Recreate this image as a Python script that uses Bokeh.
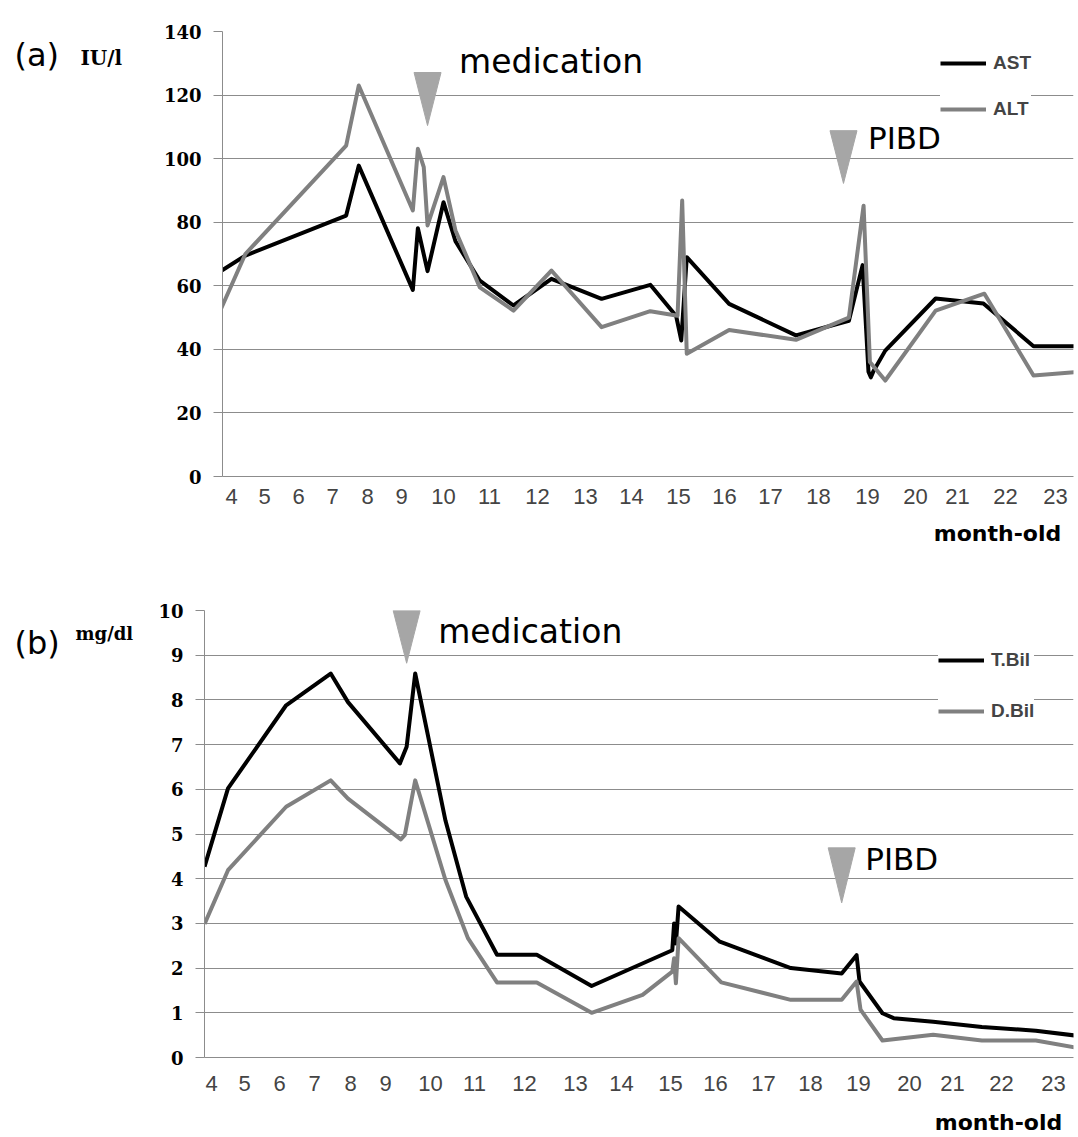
import numpy as np
from bokeh.plotting import figure
from bokeh.models import Range1d, FixedTicker, Label, Legend, LegendItem, LinearAxis
from bokeh.layouts import column, row
from bokeh.embed import file_html
from bokeh.resources import INLINE

# ---------------- data ----------------
month_ticks = list(range(4, 24))
month_labels = [str(m) for m in month_ticks]
x_title = "month-old"

# (a) transaminases, IU/l
ast_month = [3.68, 4.42, 7.39, 7.75, 9.27, 9.39, 9.62, 10.0, 10.26, 10.79, 11.5, 12.29, 13.35,
             14.4, 14.95, 15.06, 15.18, 16.1, 17.53, 18.62, 18.9, 19.02, 19.07, 19.12, 19.37,
             20.48, 21.54, 22.56, 23.5]
ast_value = [64.6, 69.5, 82.1, 97.8, 58.7, 78.1, 64.6, 86.3, 74.0, 61.6, 53.8, 62.2, 55.9,
             60.3, 50.5, 42.8, 69.0, 54.3, 44.4, 49.0, 66.5, 33.0, 31.2, 33.0, 39.6,
             56.0, 54.4, 41.0, 41.0]
alt_month = [3.68, 4.42, 7.39, 7.75, 9.27, 9.39, 9.53, 9.62, 10.0, 10.26, 10.79, 11.5, 12.29,
             13.35, 14.4, 14.98, 15.08, 15.18, 16.1, 17.53, 18.62, 18.92, 19.05, 19.37,
             20.48, 21.56, 22.56, 23.5]
alt_value = [52.7, 70.0, 104.1, 123.0, 83.7, 103.1, 97.3, 79.0, 94.2, 77.4, 59.5, 52.2, 64.8,
             47.0, 52.0, 50.6, 86.8, 38.6, 46.1, 43.0, 50.0, 85.2, 36.0, 30.2,
             52.2, 57.5, 31.8, 33.0]

# (b) bilirubin, mg/dl
tbil_month = [3.79, 4.5, 6.19, 7.45, 7.93, 9.32, 9.47, 9.66, 10.34, 10.81, 11.45, 12.24, 13.35,
              15.04, 15.08, 15.12, 15.18, 16.09, 17.58, 18.65, 18.96, 19.02, 19.47, 19.69,
              20.55, 21.6, 22.66, 23.5]
tbil_value = [4.27, 6.02, 7.88, 8.59, 7.95, 6.58, 6.95, 8.59, 5.3, 3.6, 2.3, 2.3, 1.6,
              2.4, 3.0, 2.55, 3.38, 2.59, 2.0, 1.88, 2.29, 1.7, 0.99, 0.88,
              0.8, 0.68, 0.6, 0.48]
dbil_month = [3.79, 4.5, 6.19, 7.45, 7.93, 9.34, 9.43, 9.66, 10.34, 10.85, 11.45, 12.24, 13.35,
              14.43, 15.04, 15.08, 15.12, 15.18, 16.12, 17.58, 18.65, 18.96, 19.04, 19.47,
              20.55, 21.6, 22.66, 23.5]
dbil_value = [2.99, 4.19, 5.61, 6.2, 5.79, 4.88, 4.98, 6.2, 3.97, 2.67, 1.68, 1.68, 1.0,
              1.4, 1.92, 2.22, 1.66, 2.67, 1.68, 1.29, 1.29, 1.7, 1.07, 0.38,
              0.51, 0.38, 0.38, 0.21]

# events (month-old) as placed in each panel
event_names = ["medication", "PIBD"]
event_month_a = [9.62, 18.51]
event_month_b = [9.47, 18.65]

# ---------------- layout constants ----------------
# horizontal position (px from plot-frame left) of each month label, per panel
TOP_TICK_PX = [9, 42, 76, 110, 145, 179, 221, 267, 315, 363, 409, 456, 502, 548, 596, 645,
               693, 735, 783, 833]
BOT_TICK_PX = [7, 40, 75, 110, 146, 181, 226, 270, 320, 371, 417, 466, 511, 559, 606, 654,
               705, 748, 797, 849]

BLACK = "#000000"
GREY = "#808080"
TRI = "#a6a6a6"
GRID = "#8c8c8c"
SIDE_W = 148
MAIN_W = 930


def warp(months, px):
    m = np.asarray(months, float)
    t = np.asarray(month_ticks, float)
    p = np.asarray(px, float)
    out = np.interp(m, t, p)
    lo = m < t[0]
    hi = m > t[-1]
    out[lo] = p[0] + (m[lo] - t[0]) * (p[1] - p[0]) / (t[1] - t[0])
    out[hi] = p[-1] + (m[hi] - t[-1]) * (p[-1] - p[-2]) / (t[-1] - t[-2])
    return out


def side_fig(height, texts):
    s = figure(width=SIDE_W, height=height, output_backend="svg", toolbar_location=None,
               x_range=Range1d(0, SIDE_W), y_range=Range1d(0, height),
               x_axis_location=None, y_axis_location=None, min_border=0)
    # collapse the (empty) title band so the text area spans the full height
    s.title.text = ""
    s.title.text_font_size = "0px"
    s.title.standoff = 0
    s.outline_line_color = None
    s.grid.visible = False
    for (x, y, text, font, size, style) in texts:
        s.add_layout(Label(x=x, y=y, text=text, text_font=font, text_font_size=size,
                           text_font_style=style, text_color="black",
                           text_baseline="alphabetic"))
    return s


def make_panel(height, left, top, bottom, xmax, ymax, ystep, tick_px, x_standoff,
               title_pos, title_standoff):
    p = figure(width=MAIN_W, height=height, output_backend="svg", toolbar_location=None,
               x_range=Range1d(0, xmax), y_range=Range1d(0, ymax),
               min_border_left=left, min_border_right=MAIN_W - left - xmax,
               min_border_top=top, min_border_bottom=bottom)
    p.outline_line_color = None
    p.xgrid.visible = False
    p.ygrid.grid_line_color = GRID
    p.ygrid.grid_line_width = 1

    p.yaxis.ticker = FixedTicker(ticks=[float(v) for v in np.arange(0, ymax + ystep / 2, ystep)])
    p.yaxis.axis_line_color = GRID
    p.yaxis.major_tick_line_color = GRID
    p.yaxis.major_tick_out = 9
    p.yaxis.major_tick_in = 0
    p.yaxis.minor_tick_line_color = None
    p.yaxis.major_label_text_font = "DejaVu Serif"
    p.yaxis.major_label_text_font_style = "bold"
    p.yaxis.major_label_text_font_size = "18px"
    p.yaxis.major_label_text_color = "black"
    p.yaxis.major_label_standoff = 12

    p.xaxis.ticker = FixedTicker(ticks=tick_px)
    p.xaxis.major_label_overrides = {t: lab for t, lab in zip(tick_px, month_labels)}
    p.xaxis.axis_line_color = GRID
    p.xaxis.major_tick_line_color = None
    p.xaxis.major_tick_out = 0
    p.xaxis.major_tick_in = 0
    p.xaxis.minor_tick_line_color = None
    p.xaxis.major_label_text_font = "Liberation Sans"
    p.xaxis.major_label_text_font_size = "22px"
    p.xaxis.major_label_text_color = "#444444"
    p.xaxis.major_label_standoff = x_standoff

    # axis title "month-old", right-hand side under the month labels
    mo = LinearAxis(ticker=FixedTicker(ticks=[title_pos]),
                    major_label_overrides={title_pos: x_title},
                    axis_line_color=None, major_tick_line_color=None,
                    minor_tick_line_color=None, major_tick_out=0, major_tick_in=0,
                    major_label_standoff=title_standoff,
                    major_label_text_font="DejaVu Sans", major_label_text_font_style="bold",
                    major_label_text_font_size="22px", major_label_text_color="black")
    p.add_layout(mo, "below")
    return p


def add_event(p, month, tick_px, top, tip, text, gap, text_y, size):
    cx = float(warp([month], tick_px)[0])
    half = 13.5
    p.patch([cx - half, cx + half, cx], [top, top, tip], fill_color=TRI, line_color=TRI)
    p.add_layout(Label(x=cx + half + gap, y=text_y, text=text, text_font="DejaVu Sans",
                       text_font_size=size, text_color="black", text_baseline="alphabetic"))


def add_legend(p, items, loc, spacing, padding):
    lg = Legend(items=items, location=loc, glyph_width=46, glyph_height=20, label_height=20,
                spacing=spacing, padding=padding, label_standoff=7, margin=0,
                label_text_font="Liberation Sans", label_text_font_style="bold",
                label_text_font_size="19px", border_line_color=None,
                background_fill_color="white", background_fill_alpha=1.0)
    p.add_layout(lg)


# ---------------- panel (a) ----------------
pa = make_panel(563, 74, 31, 87, 851, 140, 20, TOP_TICK_PX, 12, 775, 14)
r_ast = pa.line(warp(ast_month, TOP_TICK_PX), ast_value, line_color=BLACK, line_width=4,
                line_join="round")
r_alt = pa.line(warp(alt_month, TOP_TICK_PX), alt_value, line_color=GREY, line_width=4,
                line_join="round")
add_event(pa, event_month_a[0], TOP_TICK_PX, 127.1, 110.4, event_names[0], 18, 130.5, "33px")
add_event(pa, event_month_a[1], TOP_TICK_PX, 108.8, 92.2, event_names[1], 11, 106.6, "31px")
add_legend(pa, [LegendItem(label="AST", renderers=[r_ast]),
                LegendItem(label="ALT", renderers=[r_alt])], (718, 356), 24, 10)
sa = side_fig(563, [(14, 533, "(a)", "DejaVu Sans", "32px", "normal"),
                    (80, 529, "IU/l", "DejaVu Serif", "20px", "bold")])

# ---------------- panel (b) ----------------
pb = make_panel(574, 56, 47, 79, 869, 10, 1, BOT_TICK_PX, 18, 794, 16)
r_t = pb.line(warp(tbil_month, BOT_TICK_PX), tbil_value, line_color=BLACK, line_width=4,
              line_join="round")
r_d = pb.line(warp(dbil_month, BOT_TICK_PX), dbil_value, line_color=GREY, line_width=4,
              line_join="round")
add_event(pb, event_month_b[0], BOT_TICK_PX, 10.0, 8.82, event_names[0], 18, 9.54, "33px")
add_event(pb, event_month_b[1], BOT_TICK_PX, 4.69, 3.46, event_names[1], 10, 4.45, "31px")
add_legend(pb, [LegendItem(label="T.Bil", renderers=[r_t]),
                LegendItem(label="D.Bil", renderers=[r_d])], (734, 335), 29, 14)
sb = side_fig(574, [(14, 532, "(b)", "DejaVu Sans", "32px", "normal"),
                    (75, 544, "mg/dl", "DejaVu Serif", "18px", "bold")])

layout = column(row(sa, pa, spacing=0), row(sb, pb, spacing=0), spacing=0)
open("out.html", "w").write(file_html(layout, INLINE))
